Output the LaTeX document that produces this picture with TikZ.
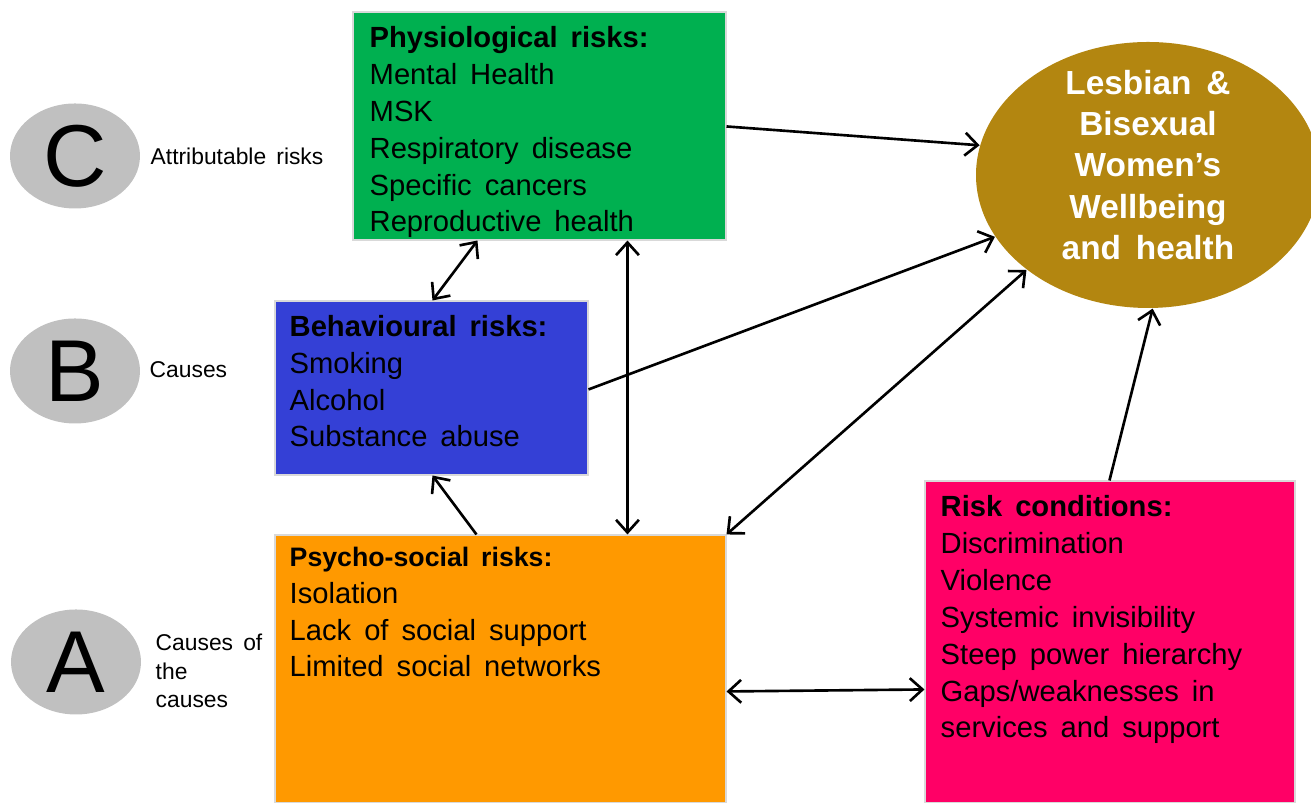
\documentclass[tikz,border=0pt]{standalone}
\usepackage{fontspec}
\setmainfont[WordSpace=1.6]{Liberation Sans}
\usetikzlibrary{
  shapes.geometric,
  arrows.meta,
  calc
}
\definecolor{physgreen}{RGB}{0,176,80}
\definecolor{behavblue}{RGB}{52,64,214}
\definecolor{psychorange}{RGB}{255,153,0}
\definecolor{condpink}{RGB}{255,0,102}
\definecolor{wellgold}{RGB}{179,134,16}
\definecolor{levelgray}{RGB}{192,192,192}

\begin{document}
\begin{tikzpicture}[
    x=0.1mm, y=-0.1mm, >={Straight Barb[length=3.6pt,width=6.5pt]},
    riskbox/.style={
      rectangle,
      draw=black!15,
      line width=0.3pt,
      inner sep=0pt
    },
    boxtext/.style={
      anchor=base west,
      align=left,
      inner sep=0pt,
      font=\fontsize{8.3}{10.5}\selectfont
    },
    level/.style={
      ellipse,
      fill=levelgray,
      inner sep=0pt,
      minimum width=13mm,
      minimum height=10.5mm,
      font=\fontsize{25}{25}\selectfont
    },
    levellabel/.style={
      anchor=west,
      align=left,
      inner sep=0pt,
      font=\fontsize{6.5}{8.1}\selectfont
    },
    link/.style={line width=0.75pt}
  ]
  \useasboundingbox (0,0) rectangle (1311,803);

  \begin{scope}
    % levels on the left
    \node[level] (levelC) at (75,156) {C};
    \node[level] (levelB) at (75,371) {B};
    \node[level] (levelA) at (76,662) {A};
    \node[levellabel] (labelC) at (150,156) {Attributable risks};
    \node[levellabel] (labelB) at (149,370) {Causes};
    \node[levellabel] (labelA) at (155,671) {Causes of\\the\\causes};

    % risk boxes
    \node[riskbox, fill=physgreen, minimum width=37.3mm, minimum height=22.8mm] (green) at (539.5,126) {};
    \node[riskbox, fill=behavblue, minimum width=31.3mm, minimum height=17.4mm] (blue) at (431.5,388) {};
    \node[riskbox, fill=psychorange, minimum width=45.1mm, minimum height=26.8mm] (orange) at (500.5,669) {};
    \node[riskbox, fill=condpink, minimum width=37mm, minimum height=32.2mm] (pink) at (1110,642) {};
    \node[ellipse, fill=wellgold, inner sep=0pt, minimum width=34.4mm, minimum height=26.6mm] (life) at (1148,175) {};

    % text sits on the baseline of its last line
    \node[boxtext] (greentxt) at (369,232) {\textbf{Physiological risks:}\\Mental Health\\MSK\\Respiratory disease\\Specific cancers\\Reproductive health};
    \node[boxtext] (bluetxt) at (289,447) {\textbf{Behavioural risks:}\\Smoking\\Alcohol\\Substance abuse};
    \node[boxtext] (orangetxt) at (289,677) {\textbf{\fontsize{7.6}{10.5}\selectfont Psycho-social risks:}\\Isolation\\Lack of social support\\Limited social networks};
    \node[boxtext] (pinktxt) at (940,738) {\textbf{Risk conditions:}\\Discrimination\\Violence\\Systemic invisibility\\Steep power hierarchy\\Gaps/weaknesses in\\services and support};
    \node[align=center, inner sep=0pt, text=white, font=\fontsize{9.5}{11.7}\selectfont\bfseries] (lifetxt) at (1148,165) {Lesbian \&\\Bisexual\\Women's\\Wellbeing\\and health};

    % links
    \draw[link,->] ($(green.north east)+(0,115)$) -- (life.170);
    \draw[link,<->] ($(green.south west)+(125,0)$) -- ($(blue.north west)+(158,0)$);
    \draw[link,<->] ($(green.south west)+(275,0)$) -- ($(orange.north west)+(353,0)$);
    \draw[link,->] ($(blue.north east)+(0,89)$) -- (life.202);
    \draw[link,<->] (orange.north east) -- (life.218);
    \draw[link,->] ($(orange.north west)+(202,0)$) -- ($(blue.south west)+(158,0)$);
    \draw[link,<->] ($(orange.north east)+(0,157)$) -- ($(pink.north west)+(0,209)$);
    \draw[link,->] ($(pink.north west)+(185,0)$) -- (life.272);
  \end{scope}
\end{tikzpicture}
\end{document}
